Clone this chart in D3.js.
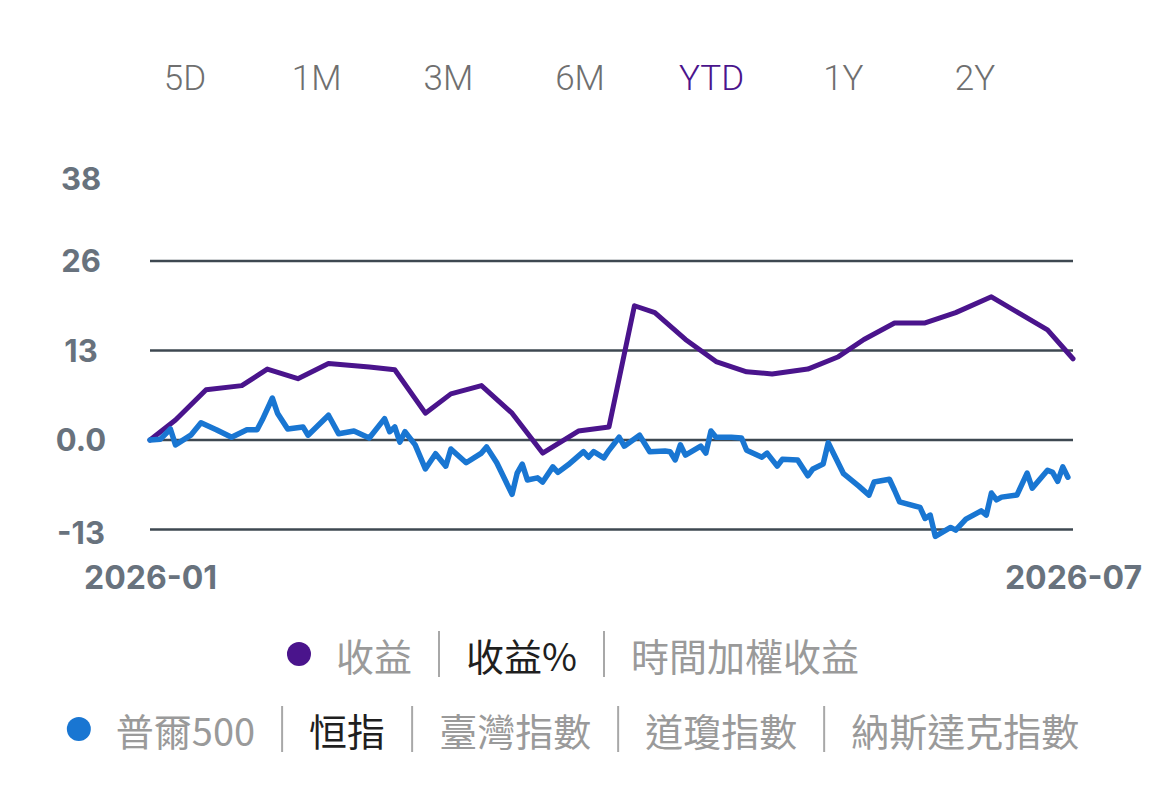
<!DOCTYPE html>
<html>
<head>
<meta charset="utf-8">
<script src="https://cdn.jsdelivr.net/npm/d3@7"></script>
<style>
  html, body { margin: 0; padding: 0; background: #ffffff; }
  svg { display: block; }
</style>
</head>
<body>
<svg id="chart" width="1170" height="805"></svg>
<script>
// period tabs
const tabs = ["5D", "1M", "3M", "6M", "YTD", "1Y", "2Y"];
const activeTab = "YTD";

// y axis ticks
const yTickValues = [38, 26, 13, 0, -13];
const yTickLabels = ["38", "26", "13", "0.0", "-13"];
const gridValues = [26, 13, 0, -13];
const xTickLabels = ["2026-01", "2026-07"];

// 收益% series
const returnDates = ["2026-01-01", "2026-01-06", "2026-01-12", "2026-01-19", "2026-01-24", "2026-01-30",
  "2026-02-05", "2026-02-13", "2026-02-18", "2026-02-24", "2026-03-01", "2026-03-07", "2026-03-13",
  "2026-03-19", "2026-03-26", "2026-04-01", "2026-04-06", "2026-04-10", "2026-04-16", "2026-04-22",
  "2026-04-28", "2026-05-03", "2026-05-10", "2026-05-16", "2026-05-21", "2026-05-27", "2026-06-02",
  "2026-06-08", "2026-06-15", "2026-06-20", "2026-06-26", "2026-07-01"];
const returnValues = [0, 2.9, 7.3, 7.9, 10.3, 8.9,
  11.1, 10.6, 10.2, 3.9, 6.7, 7.9, 3.9,
  -1.9, 1.3, 1.9, 19.5, 18.5, 14.6, 11.4,
  9.9, 9.6, 10.3, 12.1, 14.6, 17.0, 17.0,
  18.5, 20.8, 18.6, 16.0, 11.8];

// 恒指 series
const indexDates = ["2026-01-01", "2026-01-03", "2026-01-05", "2026-01-06", "2026-01-09", "2026-01-11",
  "2026-01-14", "2026-01-17", "2026-01-20", "2026-01-22", "2026-01-23", "2026-01-25", "2026-01-26",
  "2026-01-28", "2026-01-31", "2026-02-01", "2026-02-05", "2026-02-07", "2026-02-10", "2026-02-13",
  "2026-02-16", "2026-02-17", "2026-02-18", "2026-02-19", "2026-02-20", "2026-02-22", "2026-02-24",
  "2026-02-26", "2026-02-28", "2026-03-01", "2026-03-04", "2026-03-07", "2026-03-08", "2026-03-10",
  "2026-03-13", "2026-03-14", "2026-03-15", "2026-03-16", "2026-03-18", "2026-03-19", "2026-03-21",
  "2026-03-22", "2026-03-24", "2026-03-27", "2026-03-28", "2026-03-29", "2026-03-31", "2026-04-01",
  "2026-04-03", "2026-04-04", "2026-04-07", "2026-04-09", "2026-04-12", "2026-04-13", "2026-04-14",
  "2026-04-15", "2026-04-16", "2026-04-19", "2026-04-20", "2026-04-21", "2026-04-22", "2026-04-25",
  "2026-04-27", "2026-04-28", "2026-05-01", "2026-05-02", "2026-05-04", "2026-05-05", "2026-05-08",
  "2026-05-10", "2026-05-11", "2026-05-13", "2026-05-14", "2026-05-17", "2026-05-20", "2026-05-22",
  "2026-05-23", "2026-05-26", "2026-05-27", "2026-05-28", "2026-06-01", "2026-06-02", "2026-06-03",
  "2026-06-04", "2026-06-07", "2026-06-08", "2026-06-10", "2026-06-13", "2026-06-14", "2026-06-15",
  "2026-06-16", "2026-06-17", "2026-06-20", "2026-06-22", "2026-06-23", "2026-06-26", "2026-06-27",
  "2026-06-28", "2026-06-29", "2026-06-30"];
const indexValues = [0, 0.1, 1.6, -0.7, 0.7, 2.5,
  1.5, 0.4, 1.5, 1.5, 2.9, 6.1, 3.9,
  1.6, 1.9, 0.7, 3.6, 0.9, 1.3, 0.3,
  3.1, 1.2, 1.9, -0.3, 1.2, -0.7, -4.2,
  -2.0, -3.8, -1.3, -3.3, -1.9, -1.0, -3.3,
  -7.9, -4.8, -3.5, -5.8, -5.5, -6.1, -3.9,
  -4.7, -3.6, -1.7, -2.5, -1.7, -2.6, -1.5,
  0.4, -0.9, 0.7, -1.7, -1.6, -1.7, -2.9,
  -0.7, -2.2, -0.9, -1.9, 1.3, 0.4, 0.4,
  0.3, -1.5, -2.5, -1.9, -3.8, -2.8, -2.9,
  -5.2, -4.2, -3.5, -0.4, -4.9, -6.7, -8.0,
  -6.1, -5.7, -7.3, -9.0, -9.8, -11.4, -10.9,
  -14.0, -12.7, -13.1, -11.5, -10.3, -10.9, -7.7,
  -8.7, -8.3, -8.0, -4.8, -7.0, -4.4, -4.7,
  -6.0, -3.9, -5.4];

// legend rows
const legendRow1 = ["收益", "收益%", "時間加權收益"];
const legendRow2 = ["普爾500", "恒指", "臺灣指數", "道瓊指數", "納斯達克指數"];
const activeLegend = ["收益%", "恒指"];

const purple = "#4a148c";
const blue = "#1976d2";
const axisGray = "#68727d";

const svg = d3.select("#chart");
const width = 1170;
const margin = {top: 261, right: 97, bottom: 276, left: 150};
const parse = d3.utcParse("%Y-%m-%d");

// tabs
const tabX = d3.scalePoint().domain(tabs).range([185, 975]);
svg.append("g")
  .selectAll("text")
  .data(tabs)
  .join("text")
  .attr("x", d => tabX(d))
  .attr("y", 78)
  .attr("text-anchor", "middle")
  .attr("dominant-baseline", "central")
  .attr("font-family", "Roboto, sans-serif")
  .attr("font-weight", 300)
  .attr("font-size", 35)
  .attr("fill", d => d === activeTab ? purple : "#6f6f6f")
  .text(d => d);

// scales
const x = d3.scaleUtc()
  .domain([parse("2026-01-01"), parse("2026-07-01")])
  .range([margin.left, width - margin.right]);
const y = d3.scaleLinear()
  .domain([-13, 26])
  .range([529.5, 261]);

// grid lines
svg.append("g")
  .selectAll("line")
  .data(gridValues)
  .join("line")
  .attr("x1", x.range()[0])
  .attr("x2", x.range()[1])
  .attr("y1", d => y(d))
  .attr("y2", d => y(d))
  .attr("stroke", "#3e4851")
  .attr("stroke-width", 2.5);

// y axis labels
const yAxis = svg.append("g")
  .attr("transform", `translate(${margin.left},0)`)
  .call(d3.axisLeft(y)
    .tickValues(yTickValues)
    .tickFormat((d, i) => yTickLabels[i])
    .tickSize(0))
  .call(g => g.select(".domain").remove());

yAxis.selectAll(".tick text")
  .attr("x", 81 - margin.left)
  .attr("dy", d => d === -13 ? "0.45em" : "0.35em")
  .attr("text-anchor", "middle")
  .attr("font-family", "Inter, sans-serif")
  .attr("font-weight", 700)
  .attr("font-size", 31)
  .attr("fill", axisGray);

// the doubled bottom label
yAxis.selectAll(".tick")
  .filter(d => d === -13)
  .select("text")
  .clone()
  .attr("x", 84 - margin.left)
  .attr("dy", "0.27em");

// x axis labels
const xAxis = svg.append("g")
  .attr("transform", "translate(0,529)")
  .call(d3.axisBottom(x)
    .tickValues(x.domain())
    .tickFormat((d, i) => xTickLabels[i])
    .tickSize(0))
  .call(g => g.select(".domain").remove());

xAxis.selectAll(".tick text")
  .attr("y", 49)
  .attr("dy", "0.35em")
  .attr("font-family", "Inter, sans-serif")
  .attr("font-weight", 700)
  .attr("font-size", 32)
  .attr("fill", axisGray);

// lines
const line = d3.line()
  .x(d => x(d.date))
  .y(d => y(d.value));

const returnData = returnDates.map((d, i) => ({date: parse(d), value: returnValues[i]}));
const indexData = indexDates.map((d, i) => ({date: parse(d), value: indexValues[i]}));

svg.append("path")
  .datum(returnData)
  .attr("fill", "none")
  .attr("stroke", purple)
  .attr("stroke-width", 5)
  .attr("stroke-linejoin", "round")
  .attr("stroke-linecap", "round")
  .attr("d", line);

svg.append("path")
  .datum(indexData)
  .attr("fill", "none")
  .attr("stroke", blue)
  .attr("stroke-width", 5.5)
  .attr("stroke-linejoin", "round")
  .attr("stroke-linecap", "round")
  .attr("d", line);

// legend
function drawLegendRow(items, color, cy, centerX) {
  const g = svg.append("g");
  const fontSize = 38;
  const texts = items.map(t => g.append("text")
    .attr("y", cy)
    .attr("dominant-baseline", "central")
    .attr("font-family", "'Noto Sans CJK TC', 'Noto Sans', sans-serif")
    .attr("font-weight", 400)
    .attr("font-size", fontSize)
    .attr("fill", activeLegend.includes(t) ? "#1f1f1f" : "#9a9a9a")
    .text(t));
  const widths = texts.map(t => t.node().getComputedTextLength());
  const dotR = 12, dotGap = 37, gap = 27;
  const total = dotR + dotGap + d3.sum(widths) + (items.length - 1) * gap * 2;
  let cx = centerX - total / 2;
  g.append("circle")
    .attr("cx", cx)
    .attr("cy", cy)
    .attr("r", dotR)
    .attr("fill", color);
  cx += dotGap;
  texts.forEach((t, i) => {
    t.attr("x", cx);
    cx += widths[i];
    if (i < items.length - 1) {
      cx += gap;
      g.append("line")
        .attr("x1", cx).attr("x2", cx)
        .attr("y1", cy - 23).attr("y2", cy + 23)
        .attr("stroke", "#a8a8a8")
        .attr("stroke-width", 2);
      cx += gap;
    }
  });
}

drawLegendRow(legendRow1, purple, 654, 585);
drawLegendRow(legendRow2, blue, 729, 585);
</script>
</body>
</html>
